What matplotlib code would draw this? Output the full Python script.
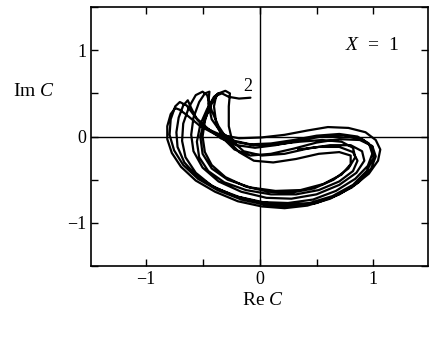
import numpy as np
import matplotlib
matplotlib.use("Agg")
import matplotlib.pyplot as plt
from matplotlib.ticker import MultipleLocator

plt.rcParams["font.family"] = ["Liberation Serif", "DejaVu Serif"]
plt.rcParams["mathtext.fontset"] = "custom"
plt.rcParams["mathtext.it"] = "Liberation Serif:italic"
plt.rcParams["mathtext.rm"] = "Liberation Serif"

# trajectory of C in the complex plane, loop by loop (Re C, Im C)
loop1 = [(-0.08, 0.45), (-0.18, 0.44), (-0.27, 0.46), (-0.33, 0.50), (-0.39, 0.47), (-0.44, 0.35),
         (-0.48, 0.18), (-0.50, 0.0), (-0.48, -0.18), (-0.42, -0.33), (-0.30, -0.47), (-0.12, -0.58),
         (0.08, -0.64), (0.28, -0.65), (0.48, -0.60), (0.65, -0.50), (0.78, -0.37), (0.84, -0.24),
         (0.82, -0.13), (0.72, -0.06), (0.55, -0.04), (0.35, -0.06), (0.15, -0.09), (-0.05, -0.10),
         (-0.22, -0.06), (-0.38, 0.02), (-0.52, 0.12), (-0.63, 0.24), (-0.70, 0.31), (-0.74, 0.33)]
loop2 = [(-0.74, 0.33), (-0.78, 0.26), (-0.81, 0.12), (-0.81, -0.03), (-0.77, -0.19), (-0.69, -0.35),
         (-0.56, -0.51), (-0.39, -0.64), (-0.19, -0.75), (0.02, -0.81), (0.22, -0.83), (0.42, -0.80),
         (0.62, -0.72), (0.81, -0.59), (0.96, -0.43), (1.04, -0.28), (1.06, -0.15), (1.02, -0.04),
         (0.93, 0.05), (0.78, 0.10), (0.60, 0.11), (0.42, 0.07), (0.22, 0.02), (0.02, -0.01),
         (-0.18, -0.02), (-0.34, 0.02), (-0.48, 0.10), (-0.55, 0.20), (-0.60, 0.33), (-0.63, 0.42)]
loop3 = [(-0.63, 0.42), (-0.67, 0.36), (-0.71, 0.22), (-0.73, 0.05), (-0.72, -0.12), (-0.66, -0.30),
         (-0.55, -0.46), (-0.38, -0.60), (-0.18, -0.70), (0.03, -0.76), (0.25, -0.77), (0.47, -0.73),
         (0.67, -0.63), (0.84, -0.49), (0.95, -0.34), (0.99, -0.20), (0.96, -0.08), (0.86, 0.0),
         (0.70, 0.03), (0.50, 0.01), (0.30, -0.04), (0.10, -0.08), (-0.08, -0.09), (-0.22, -0.05),
         (-0.34, 0.05), (-0.42, 0.20), (-0.45, 0.38), (-0.44, 0.52)]
loop4 = [(-0.44, 0.52), (-0.48, 0.50), (-0.53, 0.40), (-0.58, 0.22), (-0.60, 0.02), (-0.58, -0.17),
         (-0.50, -0.36), (-0.36, -0.52), (-0.16, -0.64), (0.06, -0.71), (0.28, -0.72), (0.50, -0.67),
         (0.70, -0.56), (0.85, -0.42), (0.92, -0.28), (0.90, -0.17), (0.80, -0.10), (0.62, -0.10),
         (0.42, -0.14), (0.22, -0.20), (0.02, -0.22), (-0.14, -0.17), (-0.24, -0.05), (-0.27, 0.12),
         (-0.27, 0.35), (-0.26, 0.50), (-0.30, 0.53)]
loop5 = [(-0.30, 0.53), (-0.36, 0.50), (-0.42, 0.38), (-0.48, 0.20), (-0.52, 0.0), (-0.50, -0.20),
         (-0.42, -0.37), (-0.28, -0.50), (-0.08, -0.59), (0.14, -0.63), (0.36, -0.62), (0.56, -0.55),
         (0.72, -0.44), (0.80, -0.32), (0.80, -0.22), (0.70, -0.18), (0.52, -0.20), (0.32, -0.26),
         (0.12, -0.30), (-0.05, -0.28), (-0.18, -0.18), (-0.28, -0.04), (-0.36, 0.12), (-0.42, 0.30),
         (-0.46, 0.48), (-0.50, 0.52)]
loop6 = [(-0.50, 0.52), (-0.56, 0.48), (-0.62, 0.34), (-0.67, 0.15), (-0.68, -0.05), (-0.65, -0.24),
         (-0.56, -0.42), (-0.42, -0.57), (-0.22, -0.69), (0.0, -0.76), (0.22, -0.79), (0.44, -0.77),
         (0.64, -0.69), (0.82, -0.56), (0.94, -0.40), (1.00, -0.25), (0.99, -0.12), (0.90, -0.03),
         (0.74, 0.01), (0.54, 0.0), (0.34, -0.05), (0.14, -0.10), (-0.04, -0.13), (-0.20, -0.10),
         (-0.34, -0.02), (-0.46, 0.10), (-0.56, 0.22), (-0.64, 0.36), (-0.70, 0.40)]
loop7 = [(-0.70, 0.40), (-0.74, 0.35), (-0.78, 0.20), (-0.79, 0.02), (-0.75, -0.16), (-0.67, -0.33),
         (-0.54, -0.49), (-0.37, -0.62), (-0.16, -0.73), (0.05, -0.79), (0.28, -0.81), (0.50, -0.77),
         (0.70, -0.67), (0.87, -0.53), (0.98, -0.37), (1.02, -0.23), (0.99, -0.11), (0.88, -0.04),
         (0.70, -0.03), (0.50, -0.07), (0.30, -0.14), (0.10, -0.20), (-0.08, -0.22), (-0.22, -0.15),
         (-0.32, -0.02), (-0.38, 0.15), (-0.40, 0.35), (-0.38, 0.48), (-0.36, 0.50)]
loop8 = [(-0.36, 0.50), (-0.40, 0.46), (-0.46, 0.32), (-0.52, 0.14), (-0.55, -0.06), (-0.53, -0.24),
         (-0.45, -0.40), (-0.31, -0.53), (-0.12, -0.62), (0.10, -0.67), (0.32, -0.67), (0.52, -0.62),
         (0.70, -0.52), (0.82, -0.40), (0.86, -0.28), (0.82, -0.18), (0.70, -0.12), (0.52, -0.12),
         (0.34, -0.15)]

loops = [loop1, loop2, loop3, loop4, loop5, loop6, loop7, loop8]

fig = plt.figure(figsize=(4.29, 3.38), dpi=100)
ax = fig.add_axes([0.212, 0.213, 0.786, 0.766])

traj = np.array([p for lp in loops for p in lp])
ax.plot(traj[:, 0], traj[:, 1], color="black", lw=1.6,
        solid_joinstyle="round", solid_capstyle="round")

ax.axhline(0, color="black", lw=1.0)
ax.axvline(0, color="black", lw=1.0)

ax.set_xlim(-1.48, 1.48)
ax.set_ylim(-1.5, 1.5)
ax.xaxis.set_major_locator(MultipleLocator(1))
ax.yaxis.set_major_locator(MultipleLocator(1))
ax.xaxis.set_minor_locator(MultipleLocator(0.5))
ax.yaxis.set_minor_locator(MultipleLocator(0.5))
ax.tick_params(which="both", direction="in", top=True, right=True, labelsize=13, width=1.0, length=5)
ax.set_xticklabels(["\u22121" if t == -1 else f"{t:g}" for t in ax.get_xticks()])
ax.set_yticklabels(["\u22121" if t == -1 else f"{t:g}" for t in ax.get_yticks()])
for s in ax.spines.values():
    s.set_linewidth(1.2)

ax.text(0.99, 1.06, "$X$  =  1", fontsize=14, ha="center", va="center")
ax.text(-0.10, 0.58, "2", fontsize=13, ha="center", va="center")

fig.text(0.080, 0.728, "Im $C$", fontsize=14, ha="center", va="center")
fig.text(0.613, 0.112, "Re $C$", fontsize=14, ha="center", va="center")

fig.savefig("out.png", dpi=100)
